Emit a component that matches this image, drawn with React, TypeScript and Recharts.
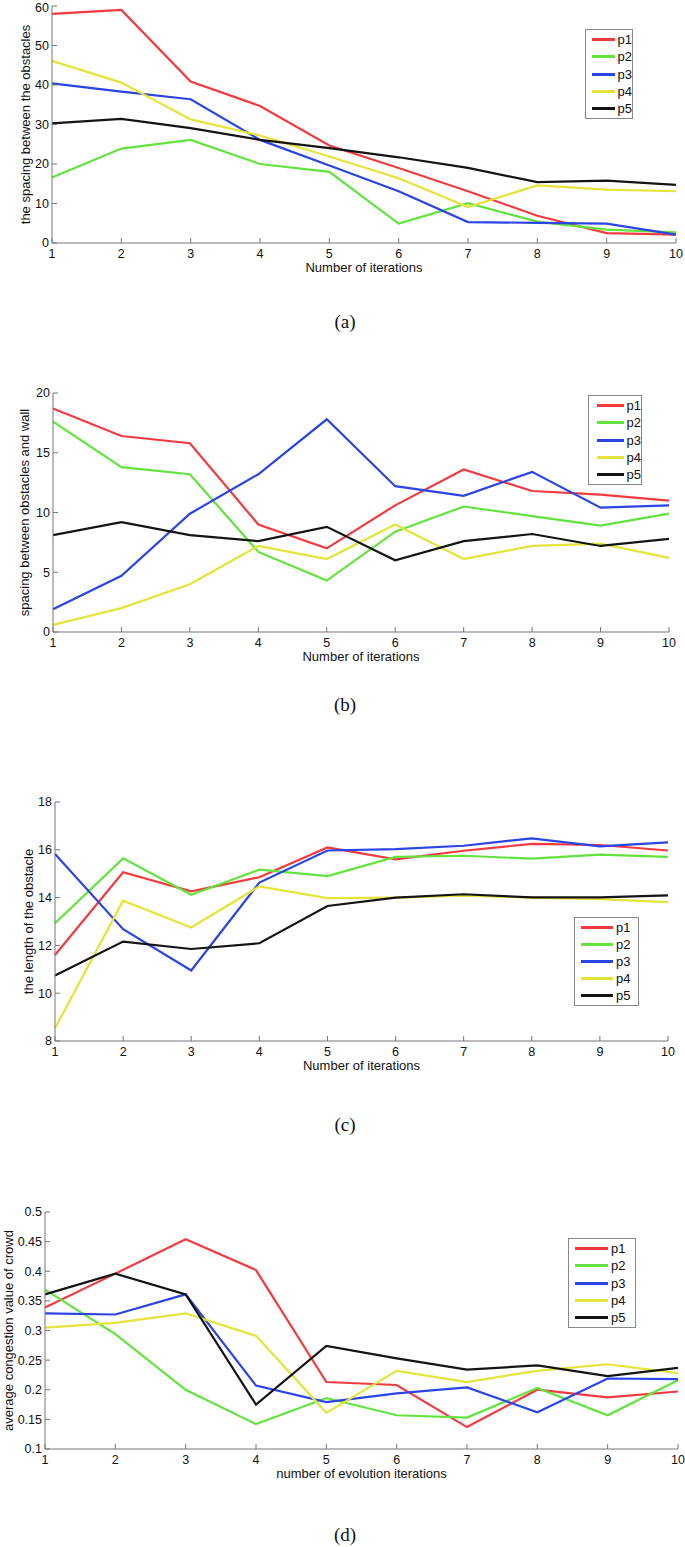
import { LineChart, Line, XAxis, YAxis, Legend } from "recharts";

const iterations = [1, 2, 3, 4, 5, 6, 7, 8, 9, 10];
const seriesNames = ["p1", "p2", "p3", "p4", "p5"];
const seriesColors = ["#f23a3f", "#62e33e", "#2a44e6", "#e4e43a", "#141414"];

// (a) spacing between the obstacles
const obstacleGapP1 = [58.0, 59.0, 40.9, 34.7, 24.7, 19.0, 13.1, 6.9, 2.5, 2.1];
const obstacleGapP2 = [16.6, 23.9, 26.1, 20.0, 18.0, 4.9, 10.1, 5.4, 3.4, 2.7];
const obstacleGapP3 = [40.4, 38.3, 36.4, 26.1, 19.6, 13.1, 5.3, 5.1, 4.9, 2.1];
const obstacleGapP4 = [46.1, 40.6, 31.3, 27.2, 21.9, 16.4, 9.1, 14.6, 13.5, 13.1];
const obstacleGapP5 = [30.3, 31.4, 29.1, 26.1, 24.0, 21.7, 19.0, 15.4, 15.8, 14.7];
const obstacleGapTicks = [0, 10, 20, 30, 40, 50, 60];

// (b) spacing between obstacles and wall
const wallGapP1 = [18.7, 16.4, 15.8, 9.0, 7.0, 10.6, 13.6, 11.8, 11.5, 11.0];
const wallGapP2 = [17.6, 13.8, 13.2, 6.7, 4.3, 8.4, 10.5, 9.7, 8.9, 9.9];
const wallGapP3 = [1.9, 4.7, 9.9, 13.2, 17.8, 12.2, 11.4, 13.4, 10.4, 10.6];
const wallGapP4 = [0.6, 2.0, 4.0, 7.2, 6.1, 9.0, 6.1, 7.2, 7.4, 6.2];
const wallGapP5 = [8.1, 9.2, 8.1, 7.6, 8.8, 6.0, 7.6, 8.2, 7.2, 7.8];
const wallGapTicks = [0, 5, 10, 15, 20];

// (c) length of the obstacle
const lengthP1 = [11.6, 15.06, 14.26, 14.85, 16.1, 15.6, 15.96, 16.25, 16.2, 15.97];
const lengthP2 = [12.93, 15.64, 14.12, 15.17, 14.9, 15.7, 15.75, 15.63, 15.8, 15.7];
const lengthP3 = [15.82, 12.68, 10.95, 14.63, 15.97, 16.03, 16.17, 16.48, 16.14, 16.31];
const lengthP4 = [8.53, 13.87, 12.75, 14.47, 13.98, 14.0, 14.08, 14.0, 13.94, 13.81];
const lengthP5 = [10.74, 12.16, 11.85, 12.09, 13.65, 14.0, 14.14, 14.01, 14.01, 14.09];
const lengthTicks = [8, 10, 12, 14, 16, 18];

// (d) average congestion value of crowd
const congestionP1 = [0.339, 0.396, 0.454, 0.402, 0.213, 0.208, 0.137, 0.2, 0.187, 0.197];
const congestionP2 = [0.369, 0.294, 0.2, 0.142, 0.186, 0.157, 0.153, 0.203, 0.157, 0.216];
const congestionP3 = [0.329, 0.327, 0.361, 0.207, 0.179, 0.194, 0.204, 0.162, 0.219, 0.218];
const congestionP4 = [0.305, 0.313, 0.329, 0.291, 0.161, 0.232, 0.213, 0.232, 0.243, 0.228];
const congestionP5 = [0.361, 0.396, 0.361, 0.175, 0.274, 0.253, 0.234, 0.241, 0.223, 0.237];
const congestionTicks = [0.1, 0.15, 0.2, 0.25, 0.3, 0.35, 0.4, 0.45, 0.5];

const toRows = (series: number[][]) =>
  iterations.map((x, i) => {
    const row: Record<string, number> = { x };
    series.forEach((s, k) => (row[seriesNames[k]] = s[i]));
    return row;
  });

const W = 685;
const TICK = 5;
const axisColor = "#777";
const tickStyle = { fontSize: 12.5, fill: "#111" };

interface LegendSpec {
  left: number;
  top: number;
  width: number;
  inset: number;
  lineLen: number;
  rowH: number;
}

interface PanelProps {
  chartTop: number;
  height: number;
  plot: { left: number; right: number; top: number; bottom: number };
  rows: Record<string, number>[];
  yTicks: number[];
  yLabel: string;
  yLabelX: number;
  xLabel: string;
  legend: LegendSpec;
  caption: string;
  captionY: number;
}

const LegendBox = ({ payload, spec }: any) => (
  <div
    style={{
      border: "1px solid #888",
      background: "#fff",
      width: spec.width,
      boxSizing: "border-box",
      padding: "1px 0",
    }}
  >
    {(payload || []).map((item: any) => (
      <div
        key={item.value}
        style={{ display: "flex", alignItems: "center", height: spec.rowH }}
      >
        <span
          style={{
            marginLeft: spec.inset,
            width: spec.lineLen,
            height: 3,
            background: item.color,
          }}
        />
        <span style={{ marginLeft: 3, fontSize: 13, color: "#111" }}>{item.value}</span>
      </div>
    ))}
  </div>
);

function Panel(p: PanelProps) {
  const { plot } = p;
  const xAxisH = p.height - (plot.bottom - p.chartTop);
  return (
    <>
      <div style={{ position: "absolute", left: 0, top: p.chartTop }}>
        <LineChart
          width={W}
          height={p.height}
          data={p.rows}
          margin={{ top: plot.top - p.chartTop, right: W - plot.right, left: 0, bottom: 0 }}
        >
          <XAxis
            dataKey="x"
            type="number"
            domain={[1, 10]}
            ticks={iterations}
            height={xAxisH}
            stroke={axisColor}
            tickSize={-TICK}
            tickMargin={TICK + 6}
            tick={tickStyle}
            label={{ value: p.xLabel, position: "insideTop", offset: 20, fontSize: 13, fill: "#111" }}
          />
          <XAxis
            xAxisId="top"
            orientation="top"
            type="number"
            domain={[1, 10]}
            ticks={iterations}
            height={0}
            stroke={axisColor}
            tickSize={-TICK}
            tick={false}
          />
          <YAxis
            type="number"
            domain={[p.yTicks[0], p.yTicks[p.yTicks.length - 1]]}
            ticks={p.yTicks}
            width={plot.left}
            stroke={axisColor}
            tickSize={-TICK}
            tickMargin={TICK + 3}
            tick={tickStyle}
            label={{
              value: p.yLabel,
              angle: -90,
              position: "insideLeft",
              offset: p.yLabelX,
              fontSize: 13,
              fill: "#111",
              style: { textAnchor: "middle" },
            }}
          />
          <YAxis
            yAxisId="right"
            orientation="right"
            type="number"
            domain={[p.yTicks[0], p.yTicks[p.yTicks.length - 1]]}
            ticks={p.yTicks}
            width={0}
            stroke={axisColor}
            tickSize={-TICK}
            tick={false}
          />
          <Legend
            layout="horizontal"
            align="center"
            verticalAlign="middle"
            wrapperStyle={{
              left: p.legend.left,
              top: p.legend.top - p.chartTop,
              width: p.legend.width,
              height: "auto",
            }}
            content={(props: any) => <LegendBox payload={props.payload} spec={p.legend} />}
          />
          {seriesNames.map((name, k) => (
            <Line
              key={name}
              type="linear"
              dataKey={name}
              stroke={seriesColors[k]}
              strokeWidth={2.2}
              dot={false}
              isAnimationActive={false}
            />
          ))}
        </LineChart>
      </div>
      <div
        style={{
          position: "absolute",
          left: 325,
          width: 40,
          top: p.captionY - 11,
          lineHeight: "22px",
          textAlign: "center",
          fontFamily: "'Liberation Serif', 'Times New Roman', serif",
          fontSize: 19,
          color: "#111",
        }}
      >
        {p.caption}
      </div>
    </>
  );
}

export default function App() {
  return (
    <div
      style={{
        position: "absolute",
        left: 0,
        top: 0,
        width: W,
        height: 1547,
        background: "#fff",
        fontFamily: "'Liberation Sans', Arial, sans-serif",
      }}
    >
      <Panel
        chartTop={0}
        height={290}
        plot={{ left: 52, right: 676, top: 6, bottom: 243 }}
        rows={toRows([obstacleGapP1, obstacleGapP2, obstacleGapP3, obstacleGapP4, obstacleGapP5])}
        yTicks={obstacleGapTicks}
        yLabel="the spacing between the obstacles"
        yLabelX={25}
        xLabel="Number of iterations"
        legend={{ left: 585, top: 29, width: 48, inset: 6, lineLen: 23, rowH: 17.3 }}
        caption="(a)"
        captionY={322}
      />
      <Panel
        chartTop={385}
        height={290}
        plot={{ left: 53, right: 669, top: 393, bottom: 632 }}
        rows={toRows([wallGapP1, wallGapP2, wallGapP3, wallGapP4, wallGapP5])}
        yTicks={wallGapTicks}
        yLabel="spacing between obstacles and wall"
        yLabelX={24}
        xLabel="Number of iterations"
        legend={{ left: 588, top: 395, width: 54, inset: 8, lineLen: 30, rowH: 17.3 }}
        caption="(b)"
        captionY={705}
      />
      <Panel
        chartTop={790}
        height={290}
        plot={{ left: 55, right: 668, top: 802, bottom: 1041 }}
        rows={toRows([lengthP1, lengthP2, lengthP3, lengthP4, lengthP5])}
        yTicks={lengthTicks}
        yLabel="the length of the obstacle"
        yLabelX={28}
        xLabel="Number of iterations"
        legend={{ left: 574, top: 917, width: 65, inset: 6, lineLen: 32, rowH: 17 }}
        caption="(c)"
        captionY={1125}
      />
      <Panel
        chartTop={1200}
        height={290}
        plot={{ left: 45, right: 678, top: 1212, bottom: 1449 }}
        rows={toRows([congestionP1, congestionP2, congestionP3, congestionP4, congestionP5])}
        yTicks={congestionTicks}
        yLabel="average congestion value of crowd"
        yLabelX={8}
        xLabel="number of evolution iterations"
        legend={{ left: 568, top: 1238, width: 68, inset: 6, lineLen: 33, rowH: 17.3 }}
        caption="(d)"
        captionY={1535}
      />
    </div>
  );
}
